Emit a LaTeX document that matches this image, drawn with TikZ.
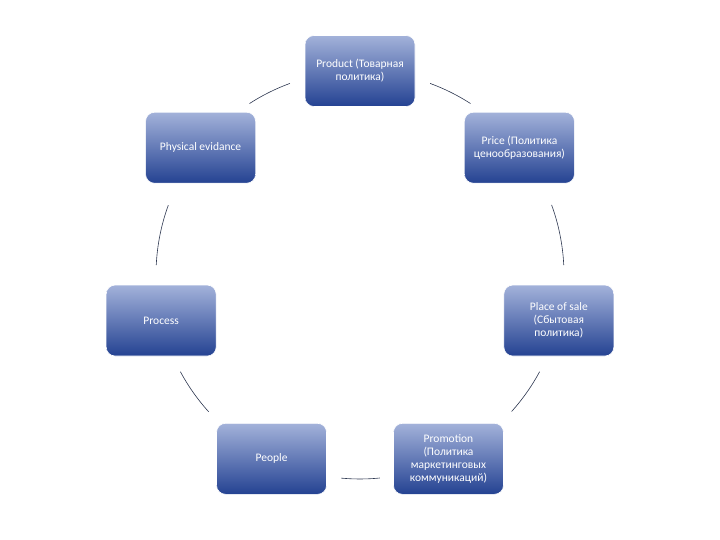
\documentclass[tikz,border=0pt]{standalone}
\usepackage{fontspec}
\setmainfont{Carlito}
\usetikzlibrary{calc}

\definecolor{boxtop}{RGB}{163,178,218}
\definecolor{boxbottom}{RGB}{36,66,146}
\definecolor{arcline}{RGB}{45,55,80}

\begin{document}
\begin{tikzpicture}[x=1pt,y=1pt,
  every node/.style={font=\fontsize{11.5}{13}\selectfont},
  stagebox/.style={rounded corners=9pt,minimum width=110pt,minimum height=71pt,
    top color=boxtop,bottom color=boxbottom,draw=white,line width=0.6pt,
    text=white,align=center,inner sep=2pt},
  cyclearc/.style={draw=arcline,line width=0.6pt}]
  \useasboundingbox (0,0) rectangle (720,540);
  \coordinate (C) at (360,265);
  % the seven stages on a circle
  \node[stagebox] (product) at ($(C)+(90:204)$) {Product (Товарная\\политика)};
  \node[stagebox] (price) at ($(C)+(38.6:204)$) {Price (Политика\\ценообразования)};
  \node[stagebox] (place) at ($(C)+(-12.9:204)$) {Place of sale\\(Сбытовая\\политика)};
  \node[stagebox] (promotion) at ($(C)+(-64.3:204)$) {Promotion\\(Политика\\маркетинговых\\коммуникаций)};
  \node[stagebox] (people) at ($(C)+(-115.7:204)$) {People};
  \node[stagebox] (process) at ($(C)+(-167.1:204)$) {Process};
  \node[stagebox] (physical) at ($(C)+(141.4:204)$) {Physical evidance};
  % arcs between the stages
  \foreach \s/\e/\n in {57.2/69.9/a1, 2.8/20.1/a2, -42/-28.3/a3, -95.3/-84.4/a4,
                        -151.7/-137.9/a5, 160/177.2/a6, 110.1/122.8/a7} {
    \coordinate (\n) at ($(C)+(\s:204)$);
    \draw[cyclearc] (\n) arc[start angle=\s,end angle=\e,radius=204];
  }
\end{tikzpicture}
\end{document}
